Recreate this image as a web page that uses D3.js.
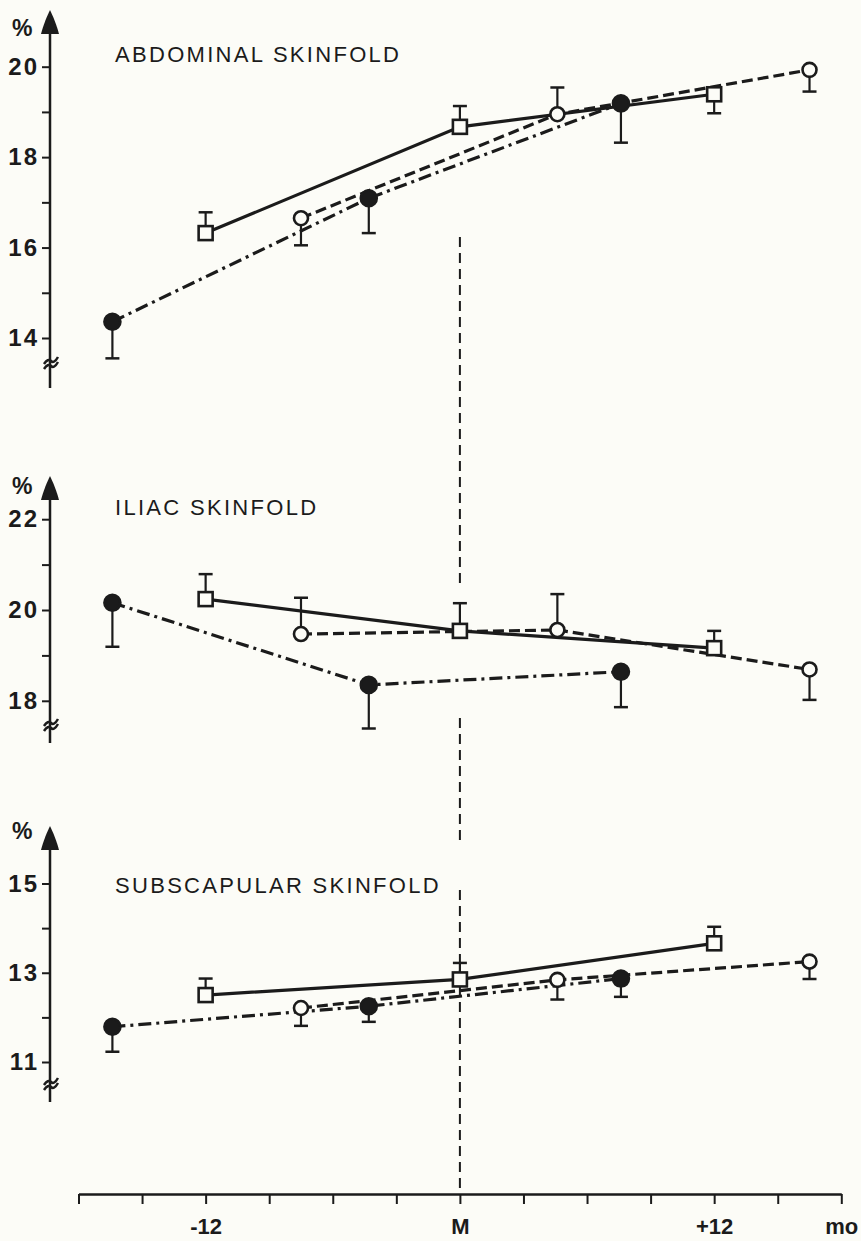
<!DOCTYPE html>
<html>
<head>
<meta charset="utf-8">
<script src="https://cdn.jsdelivr.net/npm/d3@7"></script>
<style>
  html, body { margin: 0; padding: 0; background: #fcfcf7; }
  svg { display: block; }
  text { font-family: "Liberation Sans", Arial, sans-serif; fill: #1b1b1b; }
</style>
</head>
<body>
<svg width="861" height="1241"></svg>
<script>
// months relative to menopause (M) for each group
const squareMonths = [-12, 0, 12];
const openMonths = [-7.5, 4.6, 16.5];
const filledMonths = [-16.4, -4.3, 7.6];

// abdominal skinfold (%), value and end of the error bar
const abdSquare = [16.32, 18.67, 19.39];
const abdSquareErr = [16.78, 19.13, 18.97];
const abdOpen = [16.65, 18.95, 19.93];
const abdOpenErr = [16.05, 19.54, 19.45];
const abdFilled = [14.36, 17.09, 19.19];
const abdFilledErr = [13.55, 16.32, 18.32];

// iliac skinfold (%)
const iliSquare = [20.24, 19.54, 19.16];
const iliSquareErr = [20.79, 20.15, 19.54];
const iliOpen = [19.47, 19.56, 18.69];
const iliOpenErr = [20.27, 20.35, 18.02];
const iliFilled = [20.16, 18.35, 18.64];
const iliFilledErr = [19.19, 17.39, 17.86];

// subscapular skinfold (%)
const subSquare = [12.5, 12.85, 13.66];
const subSquareErr = [12.87, 13.22, 14.03];
const subOpen = [12.21, 12.84, 13.25];
const subOpenErr = [11.81, 12.4, 12.86];
const subFilled = [11.79, 12.25, 12.87];
const subFilledErr = [11.23, 11.9, 12.46];

// axis ticks
const abdTicks = [14, 15, 16, 17, 18, 19, 20];
const abdLabels = [14, 16, 18, 20];
const iliTicks = [18, 19, 20, 21, 22];
const iliLabels = [18, 20, 22];
const subTicks = [11, 12, 13, 14, 15];
const subLabels = [11, 13, 15];
const monthTicks = d3.range(-18, 19, 3);
const monthLabels = new Map([[-12, "-12"], [0, "M"], [12, "+12"], [18, "mo"]]);

const titles = ["ABDOMINAL SKINFOLD", "ILIAC SKINFOLD", "SUBSCAPULAR SKINFOLD"];

const ink = "#1b1b1b", paper = "#fcfcf7";
const svg = d3.select("svg");
const axisX = 50;

var x = d3.scaleLinear().domain([-18, 18]).range([78.5, 841.3]);

// layout of the three panels
const panels = [
  {title: titles[0], domain: [14, 20], range: [338, 66.7], top: 10, bottom: 388, brk: 363, pct: 36, titleY: 62,
   ticks: abdTicks, labels: abdLabels,
   series: [[abdSquare, abdSquareErr], [abdOpen, abdOpenErr], [abdFilled, abdFilledErr]]},
  {title: titles[1], domain: [18, 22], range: [700.8, 519.2], top: 476, bottom: 743, brk: 725, pct: 494, titleY: 515,
   ticks: iliTicks, labels: iliLabels,
   series: [[iliSquare, iliSquareErr], [iliOpen, iliOpenErr], [iliFilled, iliFilledErr]]},
  {title: titles[2], domain: [11, 15], range: [1062, 883.5], top: 826, bottom: 1102, brk: 1084, pct: 839, titleY: 893,
   ticks: subTicks, labels: subLabels,
   series: [[subSquare, subSquareErr], [subOpen, subOpenErr], [subFilled, subFilledErr]]}
];

const groups = [
  {months: squareMonths, dash: null, marker: "square"},
  {months: openMonths, dash: "11,5", marker: "open"},
  {months: filledMonths, dash: "13,5,3,5", marker: "filled"}
];

// vertical dashed line at M, interrupted around the data
const refSegments = [[237, 588], [718, 840], [890, 1190]];
svg.append("g").selectAll("line")
  .data(refSegments)
  .enter().append("line")
  .attr("x1", x(0)).attr("x2", x(0))
  .attr("y1", d => d[0]).attr("y2", d => d[1])
  .attr("stroke", ink).attr("stroke-width", 2)
  .attr("stroke-dasharray", "10,6");

panels.forEach(function (p) {
  var y = d3.scaleLinear().domain(p.domain).range(p.range);
  var g = svg.append("g");

  // y axis with arrow
  g.append("line")
    .attr("x1", axisX).attr("x2", axisX)
    .attr("y1", p.top + 18).attr("y2", p.bottom)
    .attr("stroke", ink).attr("stroke-width", 2.5);
  g.append("path")
    .attr("d", `M${axisX},${p.top} C${axisX + 3},${p.top + 6} ${axisX + 7},${p.top + 16} ${axisX + 9},${p.top + 24} L${axisX - 9},${p.top + 24} C${axisX - 7},${p.top + 16} ${axisX - 3},${p.top + 6} ${axisX},${p.top} Z`)
    .attr("fill", ink);

  var axis = g.append("g")
    .attr("transform", `translate(${axisX},0)`)
    .call(d3.axisLeft(y).tickValues(p.ticks).tickSize(8).tickPadding(3)
      .tickFormat(d => p.labels.includes(d) ? d : ""));
  axis.select(".domain").remove();
  axis.selectAll(".tick line").attr("stroke", ink).attr("stroke-width", 2);
  axis.selectAll(".tick text")
    .attr("fill", ink)
    .style("font-size", "24px")
    .style("font-weight", "bold")
    .style("letter-spacing", "2px");

  // axis break mark
  g.append("path")
    .attr("d", `M${axisX - 6},${p.brk + 1} q4,-6 7,-3 t7,-4 M${axisX - 6},${p.brk + 6} q4,-6 7,-3 t7,-4`)
    .attr("fill", "none").attr("stroke", ink).attr("stroke-width", 2.5);

  g.append("text")
    .attr("x", 12).attr("y", p.pct)
    .style("font-size", "23px")
    .style("font-weight", "bold")
    .text("%");

  g.append("text")
    .attr("x", 115).attr("y", p.titleY)
    .style("font-size", "22px")
    .style("letter-spacing", "2.3px")
    .text(p.title);

  // connecting lines
  groups.forEach(function (grp, i) {
    var pts = grp.months.map((m, j) => [m, p.series[i][0][j]]);
    g.append("path")
      .datum(pts)
      .attr("fill", "none")
      .attr("stroke", ink)
      .attr("stroke-width", 3.2)
      .attr("stroke-dasharray", grp.dash)
      .attr("d", d3.line().x(d => x(d[0])).y(d => y(d[1])));
  });

  // error bars and markers
  groups.forEach(function (grp, i) {
    var pts = grp.months.map((m, j) => ({m: m, v: p.series[i][0][j], e: p.series[i][1][j]}));
    var eb = g.append("g").selectAll("g").data(pts).enter().append("g");
    eb.append("line")
      .attr("x1", d => x(d.m)).attr("x2", d => x(d.m))
      .attr("y1", d => y(d.v)).attr("y2", d => y(d.e))
      .attr("stroke", ink).attr("stroke-width", 2.2);
    eb.append("line")
      .attr("x1", d => x(d.m) - 7).attr("x2", d => x(d.m) + 7)
      .attr("y1", d => y(d.e)).attr("y2", d => y(d.e))
      .attr("stroke", ink).attr("stroke-width", 2.5);

    if (grp.marker === "square") {
      eb.append("rect")
        .attr("x", d => x(d.m) - 7).attr("y", d => y(d.v) - 7)
        .attr("width", 14).attr("height", 14)
        .attr("fill", paper).attr("stroke", ink).attr("stroke-width", 2.6);
    } else {
      eb.append("circle")
        .attr("cx", d => x(d.m)).attr("cy", d => y(d.v))
        .attr("r", grp.marker === "open" ? 7 : 8)
        .attr("fill", grp.marker === "open" ? paper : ink)
        .attr("stroke", ink).attr("stroke-width", 2.6);
    }
  });
});

// x axis in months
var xg = svg.append("g")
  .attr("transform", "translate(0,1194)")
  .call(d3.axisBottom(x).tickValues(monthTicks).tickSize(10).tickSizeOuter(0).tickPadding(14)
    .tickFormat(d => monthLabels.get(d) || ""));
xg.select(".domain").attr("stroke", ink).attr("stroke-width", 2.5);
xg.selectAll(".tick line").attr("stroke", ink).attr("stroke-width", 2);
xg.selectAll(".tick text")
  .attr("fill", ink)
  .style("font-size", "22px")
  .style("font-weight", "bold");
</script>
</body>
</html>
